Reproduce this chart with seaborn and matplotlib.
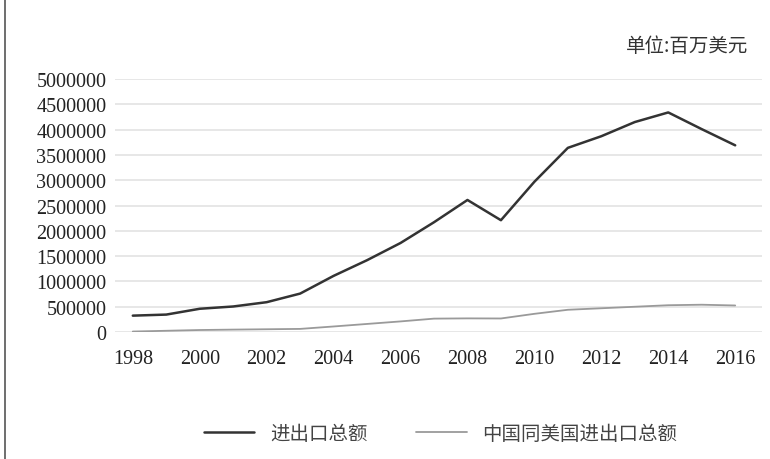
import numpy as np
import pandas as pd
import matplotlib
matplotlib.use('Agg')
import matplotlib.pyplot as plt
import seaborn as sns

# 数据（百万美元）
years = list(range(1998, 2017))
total_trade = [324000, 345000, 460000, 505000, 590000, 760000, 1110000, 1420000,
               1760000, 2170000, 2610000, 2210000, 2970000, 3640000, 3870000,
               4150000, 4340000, 4010000, 3690000]
us_trade = [10000, 25000, 40000, 48000, 55000, 62000, 110000, 160000,
            210000, 265000, 270000, 268000, 360000, 440000, 470000,
            500000, 530000, 540000, 525000]
series_names = ['进出口总额', '中国同美国进出口总额']
x_ticks = list(range(1998, 2017, 2))
y_ticks = list(range(0, 5000001, 500000))

df = pd.DataFrame({
    'year': years * 2,
    'value': total_trade + us_trade,
    'serie': [series_names[0]] * len(years) + [series_names[1]] * len(years),
})

sns.set_theme(style='white')
plt.rcParams['font.family'] = ['Liberation Serif', 'Noto Sans CJK SC', 'DejaVu Sans']

fig = plt.figure(figsize=(7.7, 4.6), dpi=100)
ax = fig.add_axes([0.149, 0.276, 0.841, 0.55])

sns.lineplot(data=df, x='year', y='value', hue='serie', hue_order=series_names,
             palette=['#333333', '#9a9a9a'], ax=ax, legend=False)
for line, lw in zip(ax.get_lines(), [1.8, 1.3]):
    line.set_linewidth(lw)

ax.set_xlim(1997.46, 2016.81)
ax.set_ylim(0, 5000000)
ax.set_xticks(x_ticks)
ax.set_yticks(y_ticks)
ax.set_xticklabels([str(y) for y in x_ticks], fontsize=14.5, color='#222222')
ax.set_yticklabels([str(v) for v in y_ticks], fontsize=14.5, color='#222222')
ax.tick_params(axis='both', length=0, pad=6)
ax.tick_params(axis='x', pad=12)
ax.yaxis.grid(True, color='#e3e3e3', linewidth=1.2)
ax.set_axisbelow(True)
for s in ax.spines.values():
    s.set_visible(False)
ax.set_xlabel('')
ax.set_ylabel('')

fig.text(0.972, 0.9, '单位:百万美元', ha='right', va='center', fontsize=14,
         color='#333333', family=['Noto Sans CJK SC', 'DejaVu Sans'])

# 左侧边框
fig.add_artist(plt.Line2D([0.007, 0.007], [0.0, 1.0], color='#555555', linewidth=1.2))

handles = [plt.Line2D([], [], color='#333333', linewidth=1.8),
           plt.Line2D([], [], color='#9a9a9a', linewidth=1.3)]
leg = fig.legend(handles, series_names, loc='center', bbox_to_anchor=(0.572, 0.055),
                 ncol=2, frameon=False, handlelength=2.6, columnspacing=2.5,
                 prop={'family': ['Noto Sans CJK SC', 'DejaVu Sans'], 'size': 14})
for t in leg.get_texts():
    t.set_color('#444444')

fig.savefig('out.png', dpi=100)
